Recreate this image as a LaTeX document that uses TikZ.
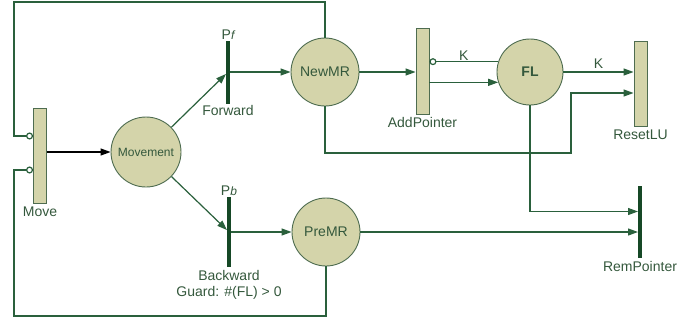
\documentclass[tikz,border=0pt]{standalone}
\usepackage{fontspec}
\setmainfont{Liberation Sans}
\usepackage{tikz}
\usetikzlibrary{
  arrows.meta,
  positioning,
  calc
}
\definecolor{pnfill}{RGB}{212,212,170}
\definecolor{pnedge}{RGB}{78,108,80}
\definecolor{pntext}{RGB}{52,88,60}
\definecolor{pnarc}{RGB}{42,96,60}
\definecolor{pnbar}{RGB}{22,72,38}

\begin{document}
\begin{tikzpicture}[
            x=1pt, y=-1pt,
            place/.style={circle, draw=pnedge, line width=0.9pt, fill=pnfill, inner sep=0pt, text=pntext, font=\fontsize{14}{16}\selectfont},
            trans/.style={rectangle, draw=pnedge, line width=0.9pt, fill=pnfill, inner sep=0pt, minimum width=13pt},
            bar/.style={rectangle, fill=pnbar, inner sep=0pt, minimum width=3.6pt},
            lbl/.style={text=pntext, font=\fontsize{14}{16}\selectfont, inner sep=1pt},
            arc/.style={draw=pnarc, line width=1.2pt, -{Triangle[length=10pt,width=7pt]}},
            inh/.style={draw=pnarc, line width=1.2pt, -{Circle[open,length=7pt,fill=white]}}
        ]
            \useasboundingbox (0,0) rectangle (699,322);
            % Move transition
            \node[trans, minimum height=95pt, label={[lbl, label distance=2pt]below:Move}] (move) at (40,155.5) {};
            % Movement place
            \node[place, minimum size=70pt, font=\fontsize{12}{14}\selectfont] (movement) at (146,152) {Movement};
            % Forward / Backward
            \node[bar, minimum height=63pt,
                  label={[lbl]above:P{\itshape\fontsize{12}{14}\selectfont f}},
                  label={[lbl]below:Forward}] (fwd) at (228,72) {};
            \node[bar, minimum height=70pt,
                  label={[lbl]above:P{\itshape\fontsize{12}{14}\selectfont b}},
                  label={[lbl, align=center, label distance=2pt]below:Backward\\Guard: \#(FL) > 0}] (bwd) at (229,232) {};
            % NewMR / PreMR places
            \node[place, minimum size=68pt] (newmr) at (325,72) {NewMR};
            \node[place, minimum size=68pt] (premr) at (326,232) {PreMR};
            % AddPointer transition
            \node[trans, minimum height=86pt, label={[lbl, label distance=2pt]below:AddPointer}] (addp) at (422.5,71) {};
            % FL place
            \node[place, minimum size=66pt, font=\fontsize{14}{16}\selectfont\bfseries] (fl) at (530,72) {FL};
            % ResetLU transition
            \node[trans, minimum height=85pt, label={[lbl, label distance=2pt]below:ResetLU}] (rlu) at (640.5,83.5) {};
            % RemPointer
            \node[bar, minimum height=72pt, label={[lbl, label distance=2pt]below:RemPointer}] (rem) at (640,222) {};

            \coordinate (topleft) at (14,2);
            \coordinate (botleft) at (14,316);
            \coordinate (jog) at (571,153);

            % arcs
            \draw[arc, draw=black] (move.east |- movement.west) -- (movement.west);
            \draw[arc] (movement) -- (fwd);
            \draw[arc] (movement) -- (bwd);
            \draw[arc] (fwd) -- (newmr);
            \draw[arc] (bwd) -- (premr);
            \draw[arc] (newmr.east) -- (addp.west |- newmr.east);
            \draw[inh] (fl.162) -- node[lbl, above] {K} (addp.east |- fl.162);
            \draw[arc] (addp.east |- fl.198) -- (fl.198);
            \draw[arc] (fl.east) -- node[lbl, above=2pt] {K} (rlu.west |- fl.east);
            \draw[arc] (newmr.south) |- (jog) |- ($(rlu.west)+(0,9.5)$);
            \draw[arc] (fl.south) |- ($(rem.west)+(0,-10.5)$);
            \draw[arc] (premr.east) -- (rem.west |- premr.east);
            \draw[inh] (newmr.north) |- (topleft) |- ($(move.west)+(0,-19.5)$);
            \draw[inh] (premr.south) |- (botleft) |- ($(move.west)+(0,14.5)$);
        \end{tikzpicture}
\end{document}
